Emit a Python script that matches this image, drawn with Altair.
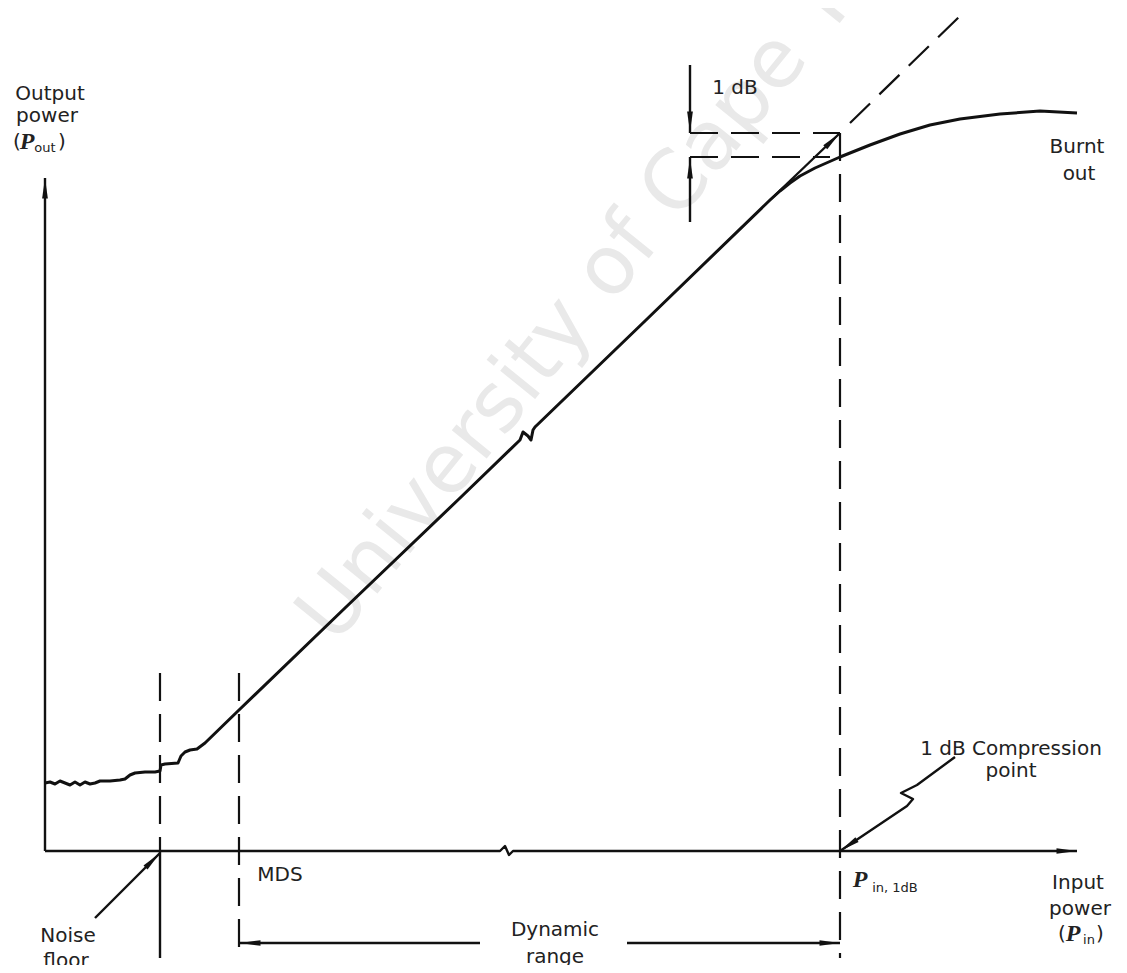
import altair as alt
import pandas as pd

# Diagram units: x = input power, y = output power (origin at the axes' corner)

# measured amplifier transfer curve (noise floor -> linear region -> compression -> burnt out)
curve_x = [0, 5, 10, 15, 20, 25, 30, 35, 40, 45, 50, 55, 65, 75, 80, 85, 90, 100, 110, 115,
           116, 120, 133, 136, 140, 145, 152, 160, 194, 300, 415, 475, 478, 483, 486, 488,
           490, 600, 725, 735, 745, 755, 770, 795, 825, 855, 885, 915, 955, 995, 1032]
curve_y = [68, 69, 67, 70, 68, 66, 69, 66, 69, 67, 68, 70, 70, 71, 72, 76, 78, 79, 79, 80,
           86, 87, 88, 95, 99, 101, 102, 108, 141, 243, 353, 411, 419, 415, 411, 421,
           424, 530, 651, 660, 668, 675, 683, 694, 706, 717, 726, 732, 737, 740, 738]

# dashed guide lines: (id, x list, y list)
dashed_ids = ["nf", "mds", "p1", "h1", "h2", "ext"]
dashed_x = [[115, 115], [194, 194], [795, 795], [645, 795], [645, 785], [805, 918]]
dashed_y = [[178, 0], [178, -107], [718, -107], [718, 718], [694, 694], [728, 838]]

# solid lines: axes, arrows
solid_ids = ["nfb", "yax", "xax", "up", "lo", "lin", "dl", "dr", "nfa", "cmp"]
solid_x = [[115, 115], [0, 0], [0, 455, 460, 464, 468, 1032], [645, 645], [645, 645],
           [725, 795], [195, 435], [582, 795], [50, 115], [910, 872, 856, 868, 862, 795]]
solid_y = [[0, -107], [0, 673], [0, 0, 5, -4, 0, 0], [786, 718], [629, 694],
           [651, 718], [-92, -92], [-92, -92], [-67, -2], [94, 66, 58, 52, 45, 0]]

# arrow heads: tip position and direction (degrees clockwise from up)
head_x = [0, 1032, 645, 645, 795, 195, 795, 115, 795]
head_y = [673, 0, 719, 693, 718, -92, -92, -2, 0]
head_angle = [0, 90, 180, 0, 46, 270, 90, 45, 236]

# labels
label_text = ["Output", "power", "(", ")", "Burnt", "out", "1 dB", "1 dB  Compression", "point",
              "MDS", "Input", "power", "(", ")", "Noise", "floor", "Dynamic", "range"]
label_x = [5, 2, -28, 17, 1032, 1034, 690, 966, 966, 235, 1033, 1035, 1017, 1055, 23, 21, 510, 510]
label_y = [757, 735, 709, 709, 704, 677, 763, 102, 80, -24, -32, -58, -83, -83, -85, -110, -79, -106]

sym_text = ["P", "P", "P"]
sym_x = [-18, 815, 1028]
sym_y = [709, -29, -83]

sub_text = ["out", "in, 1dB", "in"]
sub_x = [0, 850, 1044]
sub_y = [703, -37, -89]

watermark = "University of Cape Town"
wm_x, wm_y = 290, 205

def poly_df(ids, xs, ys):
    rows = []
    for k, xx, yy in zip(ids, xs, ys):
        for i, (a, b) in enumerate(zip(xx, yy)):
            rows.append({"id": k, "i": i, "x": a, "y": b})
    return pd.DataFrame(rows)

curve_df = pd.DataFrame({"x": curve_x, "y": curve_y, "i": range(len(curve_x))})
dashed_df = poly_df(dashed_ids, dashed_x, dashed_y)
solid_df = poly_df(solid_ids, solid_x, solid_y)
head_df = pd.DataFrame({"x": head_x, "y": head_y, "angle": head_angle})
label_df = pd.DataFrame({"x": label_x, "y": label_y, "t": label_text})
sym_df = pd.DataFrame({"x": sym_x, "y": sym_y, "t": sym_text})
sub_df = pd.DataFrame({"x": sub_x, "y": sub_y, "t": sub_text})
wm_df = pd.DataFrame({"x": [wm_x], "y": [wm_y], "t": [watermark]})

xs = alt.Scale(domain=[-37, 1074], nice=False, zero=False)
ys = alt.Scale(domain=[-114, 843], nice=False, zero=False)
X = alt.X("x:Q", scale=xs, axis=None)
Y = alt.Y("y:Q", scale=ys, axis=None)
INK = "#111111"

wm = alt.Chart(wm_df).mark_text(
    font="DejaVu Sans", fontSize=82, color="#e9e9e9", align="left", baseline="alphabetic", angle=309
).encode(x=X, y=Y, text="t:N")

curve = alt.Chart(curve_df).mark_line(color=INK, strokeWidth=3.0, strokeJoin="round").encode(
    x=X, y=Y, order="i:Q")

dashed = alt.Chart(dashed_df).mark_line(color=INK, strokeWidth=2.2, strokeDash=[28, 13]).encode(
    x=X, y=Y, detail="id:N", order="i:Q")

solid = alt.Chart(solid_df).mark_line(color=INK, strokeWidth=2.4, strokeJoin="round").encode(
    x=X, y=Y, detail="id:N", order="i:Q")

heads = alt.Chart(head_df).mark_point(
    shape="M0,0L0.28,2L-0.28,2Z", filled=True, color=INK, opacity=1, size=420
).encode(x=X, y=Y, angle=alt.Angle("angle:Q", scale=None))

labels = alt.Chart(label_df).mark_text(
    font="DejaVu Sans", fontSize=20, color="#222222", align="center", baseline="middle"
).encode(x=X, y=Y, text="t:N")

syms = alt.Chart(sym_df).mark_text(
    font="Liberation Serif", fontStyle="italic", fontWeight="bold", fontSize=24, color="#222222",
    align="center", baseline="middle"
).encode(x=X, y=Y, text="t:N")

subs = alt.Chart(sub_df).mark_text(
    font="DejaVu Sans", fontSize=13, color="#222222", align="center", baseline="middle"
).encode(x=X, y=Y, text="t:N")

chart = alt.layer(wm, dashed, solid, curve, heads, labels, syms, subs).properties(
    width=1111, height=957, autosize=alt.AutoSizeParams(type="none"), padding=0
).configure_view(strokeWidth=0)

chart.save("out.html", embed_options={"renderer": "svg", "actions": False})
